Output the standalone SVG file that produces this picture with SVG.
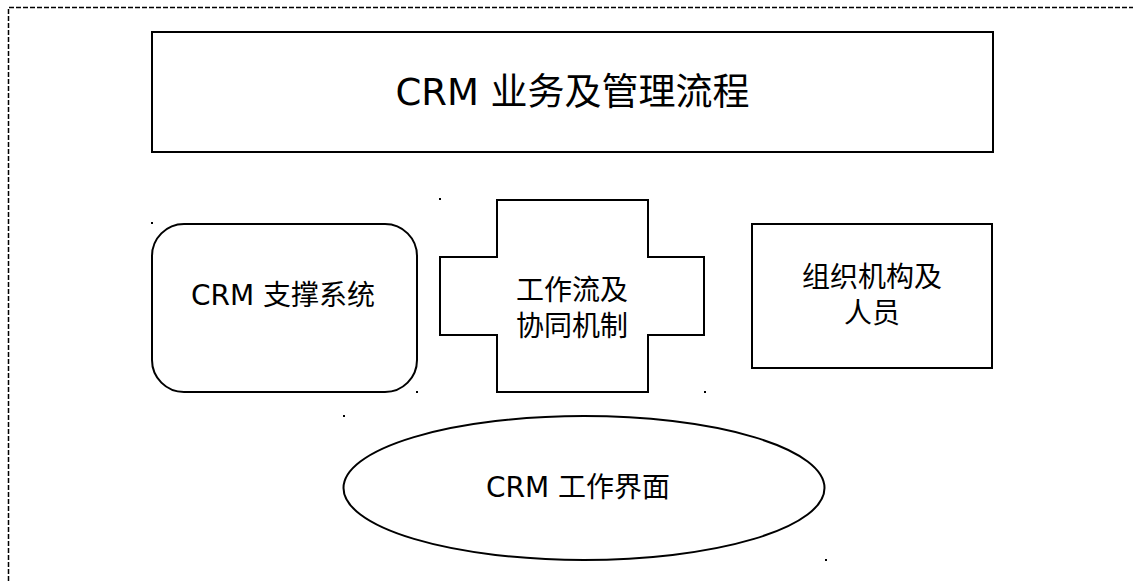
<svg xmlns="http://www.w3.org/2000/svg" width="1133" height="581" viewBox="0 0 1133 581">
<style>
.shape{fill:#fff;stroke:#000;stroke-width:2}
.t{font-family:"DejaVu Sans","Noto Sans CJK SC",sans-serif;font-size:28px;fill:#000;text-anchor:middle}
.dot{fill:#000}
</style>
<rect width="1133" height="581" fill="#fff"/>
<path d="M8.5,581 V7.5 H1133" fill="none" stroke="#000" stroke-width="1.5" stroke-dasharray="5,2"/>
<g id="title">
<rect class="shape" x="152" y="32" width="841" height="120"/>
<text class="t" x="572.5" y="105" style="font-size:37px">CRM 业务及管理流程</text>
</g>
<g id="support">
<rect class="shape" x="152" y="224" width="265" height="168" rx="32" ry="32"/>
<text class="t" x="283" y="305">CRM 支撑系统</text>
</g>
<g id="workflow">
<path class="shape" d="M497,200 H648 V257 H704 V335 H648 V392 H497 V335 H440 V257 H497 Z"/>
<text class="t" x="572" y="300">工作流及</text>
<text class="t" x="572" y="336">协同机制</text>
</g>
<g id="org">
<rect class="shape" x="752" y="224" width="240" height="144"/>
<text class="t" x="872" y="287">组织机构及</text>
<text class="t" x="872" y="323">人员</text>
</g>
<g id="ui">
<ellipse class="shape" cx="584" cy="488" rx="240.5" ry="72"/>
<text class="t" x="578" y="497">CRM 工作界面</text>
</g>
<g id="connectors">
<rect class="dot" x="151" y="222" width="2" height="2"/>
<rect class="dot" x="416" y="391" width="2" height="2"/>
<rect class="dot" x="439" y="198" width="2" height="2"/>
<rect class="dot" x="704" y="391" width="2" height="2"/>
<rect class="dot" x="343" y="415" width="2" height="2"/>
<rect class="dot" x="825" y="559" width="2" height="2"/>
</g>
</svg>
